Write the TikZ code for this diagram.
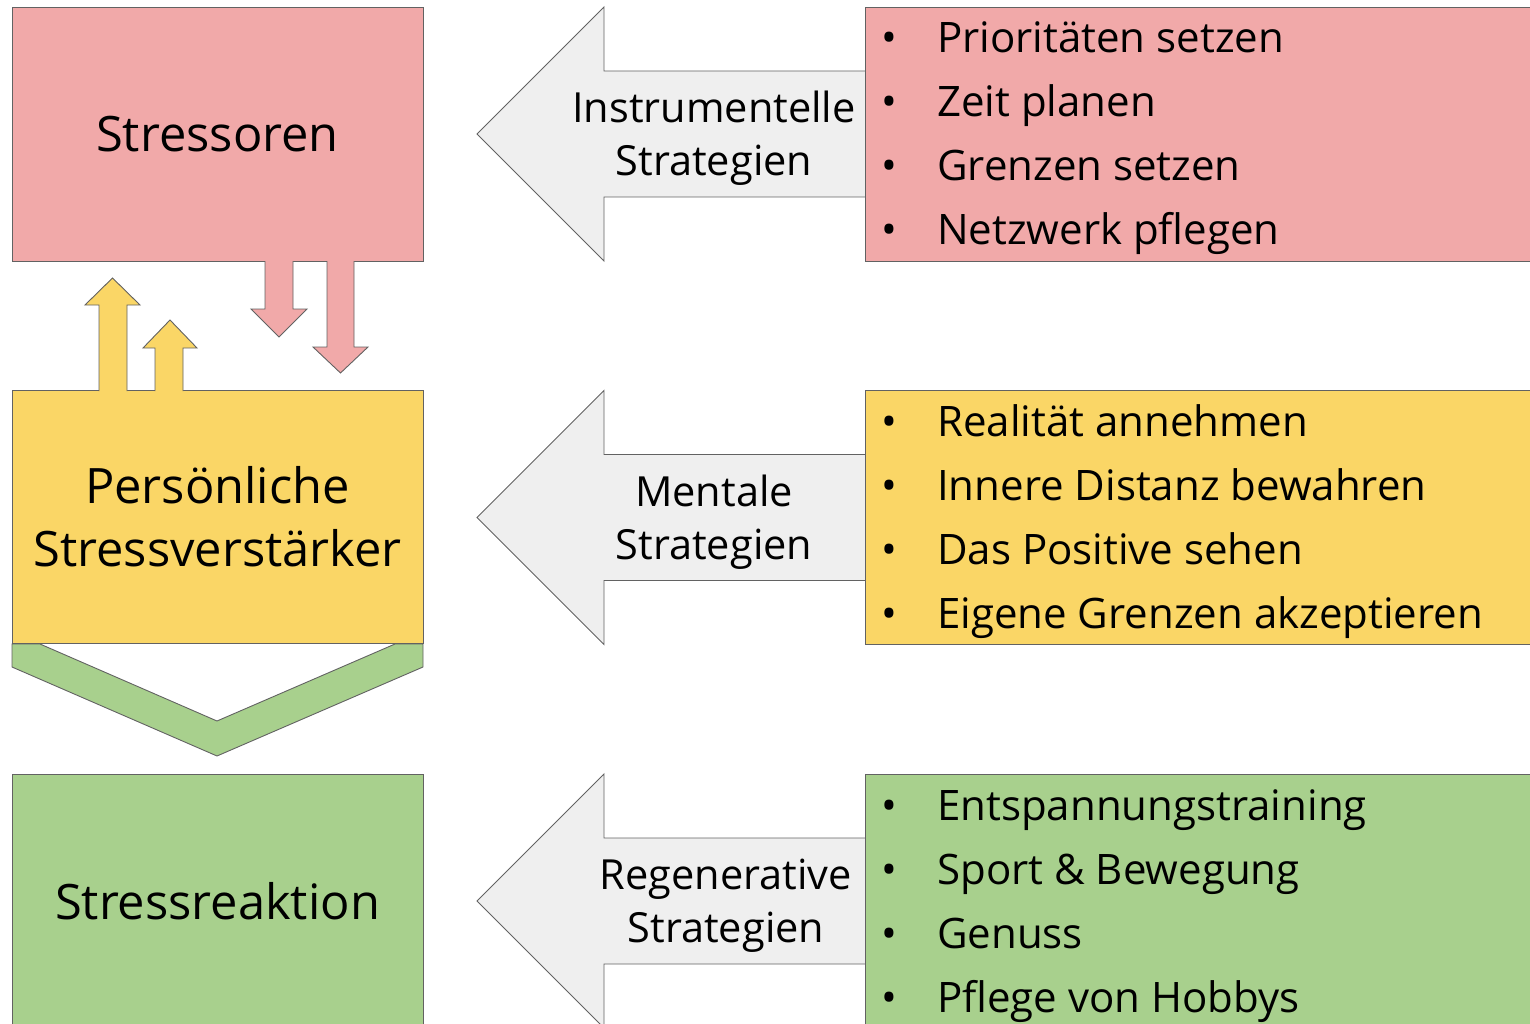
\documentclass[tikz,border=0pt]{standalone}
\usepackage{fontspec}
\setmainfont{Open Sans}
\usetikzlibrary{positioning}

\definecolor{stresspink}{HTML}{F1A9A9}
\definecolor{stressyellow}{HTML}{FAD666}
\definecolor{stressgreen}{HTML}{A8D08D}
\definecolor{arrowgray}{HTML}{EFEFEF}
\definecolor{edgegray}{HTML}{626262}

\begin{document}
\begin{tikzpicture}[x=1pt,y=-1pt,
    box/.style={draw=edgegray, line width=0.9pt, minimum width=411pt, minimum height=254pt,
        inner sep=0pt, align=center, font=\fontsize{48.8}{63}\selectfont},
    listbox/.style={draw=edgegray, line width=0.9pt, minimum width=680pt, minimum height=254pt,
        inner sep=0pt},
    item/.style={anchor=base west, inner sep=0pt, font=\fontsize{42}{52}\selectfont},
    dot/.style={anchor=base, inner sep=0pt, font=\fontsize{42}{52}\selectfont},
    strat/.style={align=center, inner sep=0pt, font=\fontsize{41.5}{53}\selectfont},
    outline/.style={draw=edgegray, line width=0.9pt, line join=miter}]
    \useasboundingbox (0,0) rectangle (1530,1024);
    \clip (0,0) rectangle (1530,1024);

    % left column
    \node[box, fill=stresspink] (stressoren) at (217.5,134) {Stressoren};
    \node[box, fill=stressyellow, minimum height=253pt] (verstaerker) at (217.5,516.5)
        {Persönliche\\Stressverstärker};
    \node[box, fill=stressgreen] (reaktion) at (217.5,901) {Stressreaktion};

    % chevron between amplifier and reaction
    \draw[outline, fill=stressgreen] (12,644) -- (40,644) -- (217,721) -- (395,644)
        -- (423,644) -- (423,667) -- (217,756) -- (12,667) -- cycle;
    \draw[outline] (verstaerker.south west) -- (verstaerker.south east);

    % small arrows up (yellow) and down (pink)
    \draw[outline, fill=stressyellow] (99,391) -- (99,305) -- (85,305) -- (112.5,278) -- (140,305)
        -- (127,305) -- (127,391);
    \draw[outline, fill=stressyellow] (155,391) -- (155,348) -- (143,348) -- (170,320) -- (197,348)
        -- (183,348) -- (183,391);
    \draw[outline, fill=stresspink] (265,261) -- (265,309) -- (251,309) -- (279,337) -- (307,309)
        -- (293,309) -- (293,261);
    \draw[outline, fill=stresspink] (327,261) -- (327,347) -- (313,347) -- (340.5,373) -- (368,347)
        -- (354,347) -- (354,261);

    % big arrows pointing left
    \foreach \c in {134,517.5,901}
        \draw[outline, fill=arrowgray] (880,\c-63) -- (604,\c-63) -- (604,\c-127) -- (477,\c)
            -- (604,\c+127) -- (604,\c+63) -- (880,\c+63);

    \node[strat] (instrumentell) at (714,138.5) {Instrumentelle\\Strategien};
    \node[strat] (mental) at (714,522.5) {Mentale\\Strategien};
    \node[strat] (regenerativ) at (726,906) {Regenerative\\Strategien};

    % right column with lists
    \node[listbox, fill=stresspink] (instlist) at (1205,134) {};
    \node[listbox, fill=stressyellow] (mentlist) at (1205,517.5) {};
    \node[listbox, fill=stressgreen] (regenlist) at (1205,901) {};

    \foreach \txt [count=\i] in {Prioritäten setzen, Zeit planen, Grenzen setzen, Netzwerk pflegen}{
        \node[dot] (instdot\i) at (889,{53+64*(\i-1)}) {•};
        \node[item] (institem\i) at (937,{53+64*(\i-1)}) {\txt};
    }
    \foreach \txt [count=\i] in {Realität annehmen, Innere Distanz bewahren, Das Positive sehen,
        Eigene Grenzen akzeptieren}{
        \node[dot] (mentdot\i) at (889,{436.5+64*(\i-1)}) {•};
        \node[item] (mentitem\i) at (937,{436.5+64*(\i-1)}) {\txt};
    }
    \foreach \txt [count=\i] in {Entspannungstraining, Sport \& Bewegung, Genuss, Pflege von Hobbys}{
        \node[dot] (regendot\i) at (889,{820+64*(\i-1)}) {•};
        \node[item] (regenitem\i) at (937,{820+64*(\i-1)}) {\txt};
    }
\end{tikzpicture}
\end{document}
